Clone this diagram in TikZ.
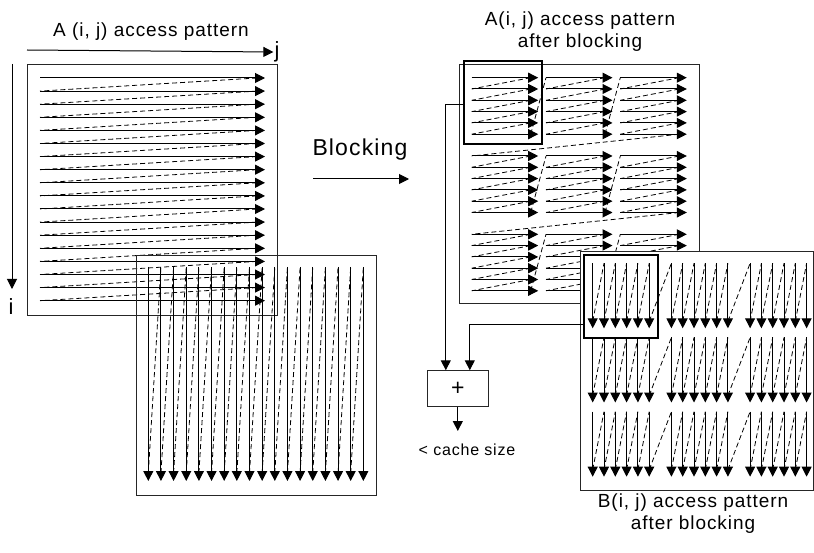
\documentclass[tikz,border=0pt]{standalone}
\usepackage{fontspec}
\setmainfont{Liberation Sans}[LetterSpace=5]
\usetikzlibrary{arrows.meta}
\tikzset{
	lbl/.style = {inner sep=1pt, font=\fontsize{19}{22}\selectfont, align=center},
	frame/.style = {draw=black!85, line width=0.9pt},
	acc/.style = {->, line width=1pt},
	back/.style = {line width=0.8pt, dash pattern=on 5pt off 3pt},
	bold/.style = {draw, line width=2.2pt, inner sep=0pt},
	plusbox/.style = {draw=black!85, line width=0.9pt, minimum width=61pt,
		minimum height=36pt, inner sep=0pt, font=\fontsize{23}{24}\selectfont}
}

\begin{document}
\begin{tikzpicture}[x=1pt,y=-1pt,>={Triangle[length=10pt,width=10pt]}]
\useasboundingbox (0,0) rectangle (814,553);

% A, row by row
\node[lbl] (titleA) at (151,32) {A (i, j) access pattern};
\coordinate (jstart) at (27,50);
\node[lbl, font=\fontsize{22}{24}\selectfont] (jlbl) at (277,52) {j};
\draw[acc] (jstart) -- (jlbl.west);
\coordinate (istart) at (12,64);
\coordinate (iend) at (12,289);
\node[lbl, font=\fontsize{22}{24}\selectfont] (ilbl) at (11,307) {i};
\draw[acc] (istart) -- (iend);
\draw[frame] (27,64) rectangle (277,315);
\foreach \k in {0,...,17}
	\draw[acc] (40,{78+13.1*\k}) -- (265,{78+13.1*\k});
\foreach \k in {0,...,16}
	\draw[back] (257,{78+13.1*\k}) -- (40,{78+13.1*(\k+1)});

% B, column by column
\draw[frame] (136,255) rectangle (376,495);
\foreach \k in {0,...,17}
	\draw[acc] ({148.3+12.65*\k},267) -- ({148.3+12.65*\k},481);
\foreach \k in {0,...,16}
	\draw[back] ({148.3+12.65*\k},473) -- ({148.3+12.65*(\k+1)},267);

% blocking
\node[lbl, font=\fontsize{23}{24}\selectfont] (blocking) at (360,150) {Blocking};
\coordinate (bl) at (313,179);
\coordinate (br) at (409,179);
\draw[acc] (bl) -- (br);

% A after blocking
\node[lbl] (titleAb) at (580,32) {A(i, j) access pattern\\after blocking};
\draw[frame] (459,64) rectangle (699,303);
\foreach \bi in {0,1,2}{
	\foreach \bj in {0,1,2}{
		\pgfmathsetmacro{\xs}{471.7+74.3*\bj}
		\pgfmathsetmacro{\ys}{77.7+78.3*\bi}
		\foreach \r in {0,...,5}
			\draw[acc] (\xs,{\ys+11.3*\r}) -- ({\xs+66.5},{\ys+11.3*\r});
		\foreach \r in {0,...,4}
			\draw[back] ({\xs+59},{\ys+11.3*\r}) -- (\xs,{\ys+11.3*(\r+1)});
	}
	\foreach \bj in {0,1}
		\draw[back] ({471.7+74.3*\bj+59},{77.7+78.3*\bi+56.5}) -- ({471.7+74.3*(\bj+1)},{77.7+78.3*\bi});
}
\foreach \bi in {0,1}
	\draw[back] ({620.3+59},{77.7+78.3*\bi+56.5}) -- (471.7,{77.7+78.3*(\bi+1)});
\node[bold, minimum width=78pt, minimum height=83pt] (boldA) at (503,102.5) {};

% B after blocking
\draw[frame, fill=white] (580,251) rectangle (813,490);
\foreach \bi in {0,1,2}{
	\foreach \bj in {0,1,2}{
		\pgfmathsetmacro{\xs}{592.7+78.7*\bj}
		\pgfmathsetmacro{\ys}{263.3+74.2*\bi}
		\foreach \c in {0,...,5}
			\draw[acc] ({\xs+11.3*\c},\ys) -- ({\xs+11.3*\c},{\ys+65});
		\foreach \c in {0,...,4}
			\draw[back] ({\xs+11.3*\c},{\ys+58}) -- ({\xs+11.3*(\c+1)},\ys);
	}
	\foreach \bj in {0,1}
		\draw[back] ({592.7+78.7*\bj+56.5},{263.3+74.2*\bi+58}) -- ({592.7+78.7*(\bj+1)},{263.3+74.2*\bi});
}
\node[bold, minimum width=74.3pt, minimum height=82.7pt] (boldB) at (621.2,296.4) {};
\node[lbl] (titleBb) at (693,514) {B(i, j) access pattern\\after blocking};

% sum of the two blocks
\node[plusbox] (plus) at (457.8,388.7) {+};
\draw[acc] ([yshift=-2.5pt]boldA.west) -| ([xshift=-12pt]plus.north);
\draw[acc] ([yshift=-28.6pt]boldB.west) -| ([xshift=12pt]plus.north);
\coordinate (pout) at (457.8,431);
\draw[acc] (plus.south) -- (pout);
\node[lbl, font=\fontsize{16}{18}\selectfont] (cache) at (467,450) {< cache size};
\end{tikzpicture}
\end{document}
